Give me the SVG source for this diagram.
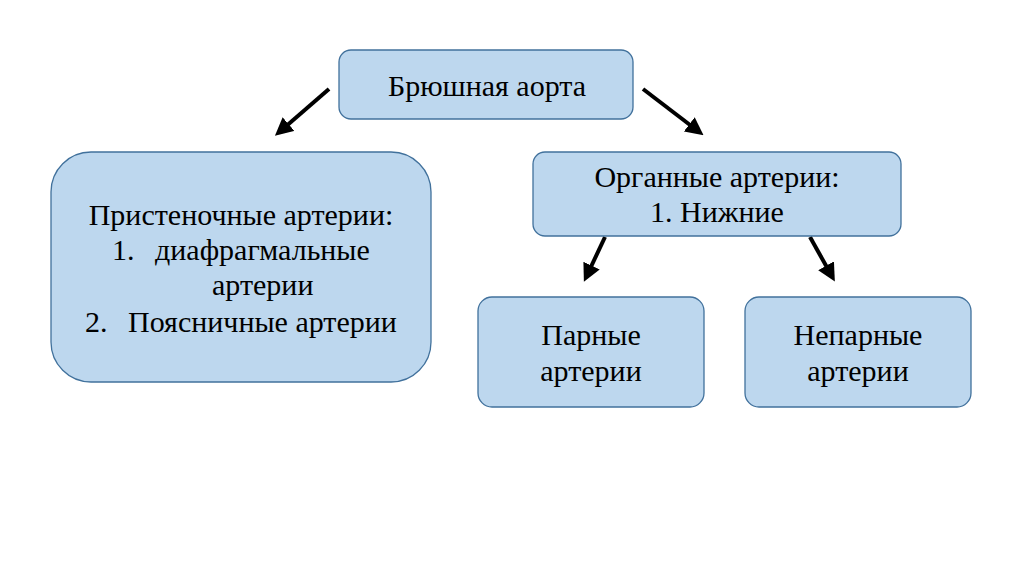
<svg xmlns="http://www.w3.org/2000/svg" width="1024" height="574" viewBox="0 0 1024 574">
<style>
.box{fill:#bdd7ee;stroke:#41719c;stroke-width:1.3}
.t{font-family:"Liberation Serif","Times New Roman",serif;font-size:30px;fill:#000}
.c{text-anchor:middle}
.arr{stroke:#000;stroke-width:4;fill:none;marker-end:url(#ah)}
</style>
<defs>
<marker id="ah" markerWidth="4.5" markerHeight="4.5" refX="1.5" refY="2.25" orient="auto" markerUnits="strokeWidth">
<path d="M0,0 L4.5,2.25 L0,4.5 z" fill="#000"/>
</marker>
</defs>
<rect width="1024" height="574" fill="#fff"/>
<g id="connectors">
<line class="arr" x1="329" y1="89" x2="284" y2="128"/>
<line class="arr" x1="643" y1="89" x2="694" y2="128"/>
<line class="arr" x1="605" y1="237" x2="589" y2="271"/>
<line class="arr" x1="810" y1="237" x2="829" y2="271"/>
</g>
<g id="aorta">
<rect class="box" x="339" y="50" width="294" height="69" rx="12"/>
<text class="t c" x="487" y="96">Брюшная аорта</text>
</g>
<g id="parietal">
<rect class="box" x="51" y="152" width="380" height="230" rx="40"/>
<text class="t c" x="241" y="225">Пристеночные артерии:</text>
<text class="t" x="112" y="260">1.</text>
<text class="t" x="155" y="260">диафрагмальные</text>
<text class="t" x="212" y="295">артерии</text>
<text class="t" x="85" y="332">2.</text>
<text class="t" x="128" y="332">Поясничные артерии</text>
</g>
<g id="organ">
<rect class="box" x="533" y="152" width="368" height="84" rx="12"/>
<text class="t c" x="717" y="187">Органные артерии:</text>
<text class="t c" x="717" y="222">1. Нижние</text>
</g>
<g id="paired">
<rect class="box" x="478" y="297" width="226" height="110" rx="14"/>
<text class="t c" x="591" y="345">Парные</text>
<text class="t c" x="591" y="381">артерии</text>
</g>
<g id="unpaired">
<rect class="box" x="745" y="297" width="226" height="110" rx="14"/>
<text class="t c" x="858" y="345">Непарные</text>
<text class="t c" x="858" y="381">артерии</text>
</g>
</svg>
